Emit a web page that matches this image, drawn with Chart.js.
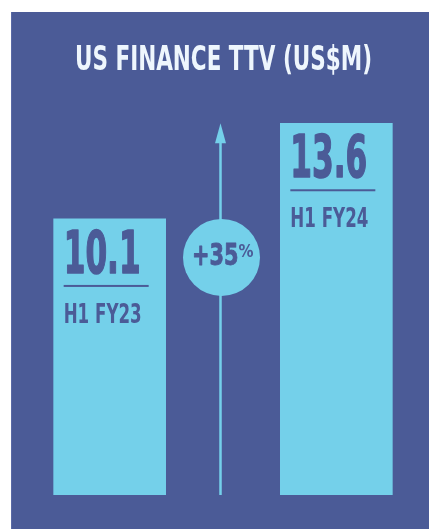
<!DOCTYPE html>
<html>
<head>
<meta charset="utf-8">
<script src="https://cdn.jsdelivr.net/npm/chart.js@4.4.1/dist/chart.umd.min.js"></script>
<style>
  html, body { margin: 0; padding: 0; background: #ffffff; }
  #wrap { width: 429px; height: 529px; position: relative; }
</style>
</head>
<body>
<div id="wrap"><canvas id="ttvChart"></canvas></div>
<script>
// chart data
const periods = ['H1 FY23', '', 'H1 FY24'];
const ttvValues = [10.1, null, 13.6];
const yTicks = [0, 15];
const chartTitle = 'US FINANCE TTV (US$M)';

const panelColor = '#4b5b97';
const barColor = '#74d0ea';
const titleColor = '#eef6fd';
const narrowFont = '"DejaVu Sans Condensed", "DejaVu Sans", sans-serif';

// panel background behind everything
const panelPlugin = {
  id: 'panel',
  beforeDraw(chart) {
    const ctx = chart.ctx;
    ctx.save();
    ctx.fillStyle = '#ffffff';
    ctx.fillRect(0, 0, chart.width, chart.height);
    ctx.fillStyle = panelColor;
    ctx.fillRect(11, 12, chart.width - 11, chart.height - 12);
    ctx.fillStyle = '#5a6aa6';
    ctx.fillRect(11, 12, 1, chart.height - 12);
    ctx.restore();
  }
};

// draw bold text squeezed horizontally so that refText would be fitWidth wide
function drawSqueezed(ctx, text, x, y, size, refText, fitWidth, align, thicken) {
  ctx.save();
  ctx.font = 'bold ' + size + 'px ' + narrowFont;
  const squeeze = fitWidth / ctx.measureText(refText).width;
  let w = ctx.measureText(text).width * squeeze;
  let startX = x;
  if (align === 'center') startX = x - w / 2;
  ctx.translate(startX, y);
  ctx.scale(squeeze, 1);
  ctx.textAlign = 'left';
  ctx.fillText(text, 0, 0);
  if (thicken) {
    ctx.strokeStyle = ctx.fillStyle;
    ctx.lineWidth = thicken;
    ctx.lineJoin = 'round';
    ctx.strokeText(text, 0, 0);
  }
  ctx.restore();
}

// title, value + period labels inside bars, growth arrow and bubble
const labelPlugin = {
  id: 'barLabels',
  afterDatasetsDraw(chart) {
    const ctx = chart.ctx;
    const meta = chart.getDatasetMeta(0);
    const xs = chart.scales.x;
    const ys = chart.scales.y;

    ctx.save();
    ctx.textBaseline = 'alphabetic';
    ctx.fillStyle = titleColor;
    drawSqueezed(ctx, chartTitle, (chart.chartArea.left + chart.chartArea.right) / 2 + 0.5, 70, 34, chartTitle, 297, 'center');

    ctx.fillStyle = panelColor;
    meta.data.forEach((bar, i) => {
      if (ttvValues[i] === null) return;
      const left = bar.x - bar.width / 2;
      const top = bar.y;
      drawSqueezed(ctx, ttvValues[i].toFixed(1), left + 10, top + 54, 58, '13.6', 77, 'left', 1.5);
      ctx.fillRect(left + 10, top + 66, 85, 2);
      drawSqueezed(ctx, periods[i], left + 10, top + 104, 26, 'H1 FY24', 78);
    });
    ctx.restore();

    // arrow from baseline up to the higher bar
    const ax = xs.getPixelForValue(1) - 2.5;
    const tipY = ys.getPixelForValue(ttvValues[2]);
    const baseY = ys.getPixelForValue(0);
    ctx.save();
    ctx.strokeStyle = barColor;
    ctx.fillStyle = barColor;
    ctx.lineWidth = 2.5;
    ctx.beginPath();
    ctx.moveTo(ax, baseY);
    ctx.lineTo(ax, tipY + 18);
    ctx.stroke();
    ctx.beginPath();
    ctx.moveTo(ax, tipY);
    ctx.lineTo(ax - 5.5, tipY + 20);
    ctx.lineTo(ax + 5.5, tipY + 20);
    ctx.closePath();
    ctx.fill();

    // growth bubble
    const r = 38.5;
    const cy = ys.getPixelForValue(ttvValues[0]) + r;
    ctx.beginPath();
    ctx.arc(ax + 1, cy, r, 0, Math.PI * 2);
    ctx.fill();

    const growth = Math.round((ttvValues[2] / ttvValues[0] - 1) * 100);
    ctx.fillStyle = panelColor;
    drawSqueezed(ctx, '+' + growth, ax - 28.5, cy + 8, 30, '+35', 46.5, 'left', 0.8);
    drawSqueezed(ctx, '%', ax + 18, cy - 0.5, 18, '%', 15);
    ctx.restore();
  }
};

new Chart(document.getElementById('ttvChart'), {
  type: 'bar',
  data: {
    labels: periods,
    datasets: [{
      data: ttvValues,
      backgroundColor: barColor,
      borderWidth: 0,
      barThickness: 112
    }]
  },
  options: {
    responsive: true,
    maintainAspectRatio: false,
    animation: false,
    layout: { padding: { top: 85, bottom: 34, left: 53, right: 36 } },
    plugins: {
      legend: { display: false },
      tooltip: { enabled: false },
      title: { display: false }
    },
    scales: {
      x: { display: false, offset: true },
      y: { display: false, min: yTicks[0], max: yTicks[1] }
    }
  },
  plugins: [panelPlugin, labelPlugin]
});
</script>
</body>
</html>
